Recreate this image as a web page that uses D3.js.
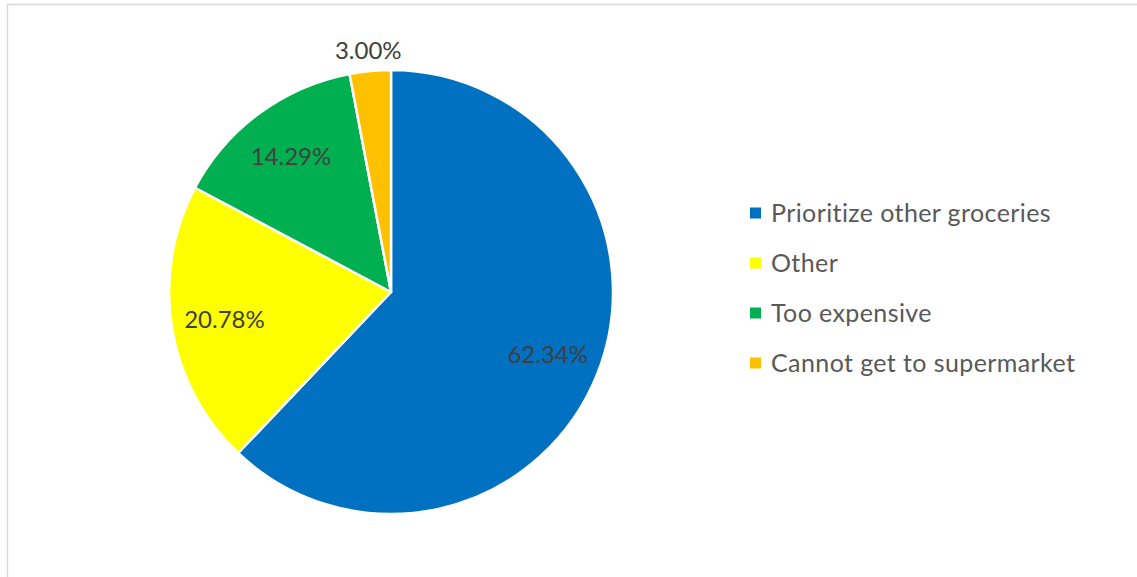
<!DOCTYPE html>
<html><head><meta charset="utf-8">
<script src="https://cdnjs.cloudflare.com/ajax/libs/d3/7.8.5/d3.min.js"></script>
<style>html,body{margin:0;padding:0;background:#fff;overflow:hidden}</style>
</head><body>
<svg id="chart" width="1137" height="577"></svg>
<script>
const categories = ["Prioritize other groceries", "Other", "Too expensive", "Cannot get to supermarket"];
const values = [62.34, 20.78, 14.29, 3.00];
const labels = ["62.34%", "20.78%", "14.29%", "3.00%"];
const colors = ["#0070C0", "#FFFF00", "#00B050", "#FFC000"];

const svg = d3.select("#chart");
const W = 1137, H = 577;
const font = "Lato, 'Open Sans', sans-serif";

svg.append("rect").attr("x", 7.5).attr("y", 4.5).attr("width", W + 10).attr("height", H + 10)
  .attr("fill", "#fff").attr("stroke", "#D9D9D9").attr("stroke-width", 1.5);

const cx = 391, cy = 292, r = 222;
const pie = d3.pie().sort(null).value(d => d);
const arcs = pie(values);
const arc = d3.arc().innerRadius(0).outerRadius(r);
const color = d3.scaleOrdinal().domain(categories).range(colors);

const g = svg.append("g").attr("transform", `translate(${cx},${cy})`);
g.selectAll("path").data(arcs).join("path")
  .attr("d", arc)
  .attr("fill", (d, i) => color(categories[i]))
  .attr("stroke", "#fff").attr("stroke-width", 2.5).attr("stroke-linejoin", "round");

const inLabel = d3.arc().innerRadius(r * 0.76).outerRadius(r * 0.76);
const outLabel = d3.arc().innerRadius(r * 1.095).outerRadius(r * 1.095);
g.selectAll("text.lbl").data(arcs).join("text")
  .attr("class", "lbl")
  .attr("transform", d => {
    const frac = (d.endAngle - d.startAngle) / (2 * Math.PI);
    const p = frac < 0.05 ? outLabel.centroid(d) : inLabel.centroid(d);
    return `translate(${p[0]},${p[1]})`;
  })
  .attr("text-anchor", "middle").attr("dy", "0.36em")
  .attr("font-family", font).attr("font-size", 24).attr("fill", "#404040")
  .text((d, i) => labels[i]);

const legend = svg.append("g").attr("transform", "translate(750,213)");
const rows = legend.selectAll("g").data(categories).join("g")
  .attr("transform", (d, i) => `translate(0,${i * 50})`);
rows.append("rect").attr("x", 0).attr("y", -5.5).attr("width", 11).attr("height", 11)
  .attr("fill", d => color(d));
rows.append("text").attr("x", 21).attr("y", 0).attr("dy", "0.35em")
  .attr("font-family", font).attr("font-size", 25).attr("letter-spacing", 0.4).attr("fill", "#595959")
  .text(d => d);
</script>
</body></html>
